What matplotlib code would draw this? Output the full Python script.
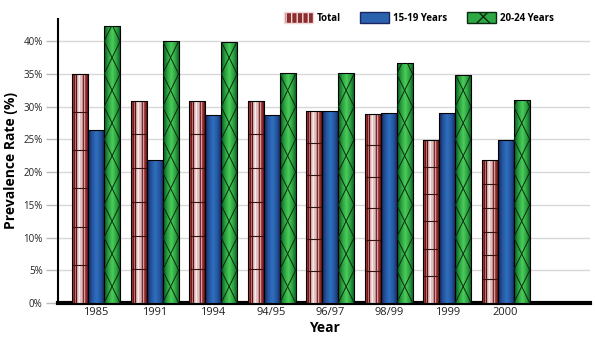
import matplotlib.pyplot as plt
import numpy as np
from matplotlib.patches import Patch
from matplotlib.colors import LinearSegmentedColormap, ListedColormap

years = ['1985', '1991', '1994', '94/95', '96/97', '98/99', '1999', '2000']
total = [35.0, 30.9, 30.9, 30.9, 29.4, 28.9, 24.9, 21.8]
age_15_19 = [26.4, 21.9, 28.8, 28.7, 29.4, 29.0, 29.0, 24.9]
age_20_24 = [42.3, 40.0, 39.9, 35.1, 35.1, 36.7, 34.9, 31.0]

plt.rcParams['font.family'] = ['Open Sans', 'DejaVu Sans']

fig = plt.figure(figsize=(5.95, 3.4), dpi=100)
ax = fig.add_axes([0.0975, 0.109, 0.894, 0.835])

w = 0.274
x = np.arange(len(years))

stripes = ['#5a1010', '#9a3030', '#6a1a1a', '#b87070', '#5a1414', '#d4a8a8', '#e8d0d0', '#f4ecec',
           '#e0c0c0', '#c09090', '#7a2a2a', '#d0a0a0', '#a04040', '#8a2828', '#6a1a1a', '#4a0c0c']
stripe_cmap = ListedColormap(stripes)
blue_cmap = LinearSegmentedColormap.from_list('b', ['#1a2258', '#2456a0', '#2f70bd', '#2456a0', '#1a2258'])
green_cmap = LinearSegmentedColormap.from_list('g', ['#0a5520', '#2aa040', '#4ccc5a', '#2aa040', '#0a5520'])


def fancy_bars(xs, vals, cmap, n):
    bars = ax.bar(xs, vals, w, facecolor='none', edgecolor='black', linewidth=0.8, zorder=4)
    grad = np.linspace(0, 1, n).reshape(1, -1)
    for b in bars:
        x0, y0 = b.get_x(), b.get_y()
        im = ax.imshow(grad, cmap=cmap, aspect='auto', interpolation='nearest' if n < 20 else 'bilinear',
                       extent=[x0, x0 + b.get_width(), y0, y0 + b.get_height()], zorder=3)
        im.set_clip_path(b)
    return bars


tb = fancy_bars(x - w, total, stripe_cmap, len(stripes))
for b in tb:
    h = b.get_height()
    ax.hlines([h * k / 6 for k in range(1, 6)], b.get_x(), b.get_x() + w, color='#3a1010', lw=0.8, zorder=4)

fancy_bars(x, age_15_19, blue_cmap, 64)

gb = fancy_bars(x + w, age_20_24, green_cmap, 64)
period = 10.0
for b in gb:
    x0, h = b.get_x(), b.get_height()
    ys = np.arange(0, h + period, period / 2)
    idx = np.arange(len(ys)) % 2
    for line_x in (np.where(idx == 0, x0, x0 + w), np.where(idx == 0, x0 + w, x0)):
        ln, = ax.plot(line_x, ys, color='#0a2a10', lw=0.7, zorder=4)
        ln.set_clip_path(b)

ax.set_xlim(-0.65, 8.44)
ax.set_ylim(0, 43.4)
ax.set_yticks(np.arange(0, 41, 5))
ax.set_yticklabels([f'{v}%' for v in range(0, 41, 5)], fontsize=7, color='#222222')
ax.set_xticks(x)
ax.set_xticklabels(years, fontsize=8, color='#222222')
ax.tick_params(axis='y', length=9, color='#bbbbbb', width=1, pad=2)
ax.tick_params(axis='x', length=0, pad=3)
ax.grid(axis='y', color='#d8d8d8', lw=1, zorder=0)
ax.set_axisbelow(True)
for s in ('top', 'right'):
    ax.spines[s].set_visible(False)
ax.spines['left'].set_linewidth(1.5)
ax.spines['bottom'].set_linewidth(3)

ax.set_ylabel('Prevalence Rate (%)', fontsize=10, fontweight='bold', labelpad=4)
ax.set_xlabel('Year', fontsize=10, fontweight='bold', labelpad=2)

handles = [Patch(facecolor='#8c2c2c', edgecolor='#f0d8d8', hatch='|||', label='Total'),
           Patch(facecolor='#2a62ad', edgecolor='#1b2560', label='15-19 Years'),
           Patch(facecolor='#2ea844', edgecolor='#0a2a10', hatch='x', label='20-24 Years')]
fig.legend(handles=handles, loc='upper left', bbox_to_anchor=(0.462, 0.99), ncol=3, frameon=False,
           prop={'size': 7, 'weight': 'bold'}, handlelength=3.0, handleheight=1.4,
           columnspacing=2.0, handletextpad=0.4)

fig.savefig('out.png', dpi=100)
